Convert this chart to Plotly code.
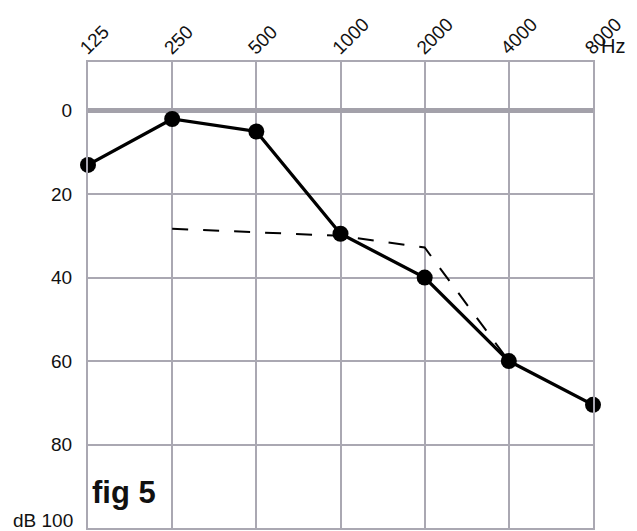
import plotly.graph_objects as go

freqs = [125, 250, 500, 1000, 2000, 4000, 8000]
freq_labels = ["125", "250", "500", "1000", "2000", "4000", "8000"]
thresholds = [13, 2, 5, 29.5, 40, 60, 70.5]

dash_freqs = [250, 1000, 2000, 4000]
dash_vals = [28.3, 30, 32.8, 60]

db_ticks = [0, 20, 40, 60, 80]
db_labels = ["0", "20", "40", "60", "80"]

FONT = "Liberation Sans, Arial, sans-serif"
GRID = "#aaa8b2"

# page body has an 8px default margin, so the figure is sized/offset to compensate
W, H = 629, 523

fig = go.Figure()
fig.add_trace(go.Scatter(
    x=dash_freqs, y=dash_vals, mode="lines",
    line=dict(color="black", width=2, dash="16px,15px"),
    hoverinfo="skip", cliponaxis=False,
))
fig.add_trace(go.Scatter(
    x=freqs, y=thresholds, mode="lines+markers",
    line=dict(color="black", width=3.3),
    marker=dict(color="black", size=16),
    cliponaxis=False,
))

fig.update_layout(
    width=W, height=H,
    margin=dict(l=80, r=44, t=54, b=3, autoexpand=False),
    paper_bgcolor="white", plot_bgcolor="white",
    showlegend=False,
    font=dict(family=FONT, size=19, color="#111"),
)
fig.update_xaxes(
    type="log", side="top",
    range=[2.09691, 3.90309],
    tickvals=freqs, ticktext=freq_labels,
    tickangle=-45,
    showgrid=True, gridcolor=GRID, gridwidth=2,
    showline=True, linecolor=GRID, linewidth=2, mirror=True,
    ticks="", zeroline=False,
    ticklabelshift=-7, ticklabelstandoff=-6,
    tickfont=dict(family=FONT, size=19, color="#111"),
)
fig.update_yaxes(
    range=[100, -11.65],
    tickvals=db_ticks, ticktext=db_labels,
    showgrid=True, gridcolor=GRID, gridwidth=2,
    showline=True, linecolor=GRID, linewidth=2, mirror=True,
    zeroline=True, zerolinecolor="#a3a1aa", zerolinewidth=4.5,
    ticks="", ticklabelstandoff=10,
    tickfont=dict(family=FONT, size=19, color="#111"),
)

fig.add_annotation(
    text="dB 100", xref="paper", yref="y", x=0, y=100,
    xanchor="right", yanchor="middle", xshift=-13, yshift=8,
    showarrow=False, font=dict(family=FONT, size=19, color="#111"),
)
fig.add_annotation(
    text="Hz", xref="paper", yref="paper", x=1, y=1,
    xanchor="left", yanchor="bottom", xshift=6, yshift=3,
    showarrow=False, font=dict(family=FONT, size=20, color="#111"),
)
fig.add_annotation(
    text="<b>fig 5</b>", xref="paper", yref="y", x=0, y=91.5,
    xanchor="left", yanchor="middle", xshift=2,
    showarrow=False, font=dict(family=FONT, size=31, color="#111"),
)

fig.write_html("out.html")
